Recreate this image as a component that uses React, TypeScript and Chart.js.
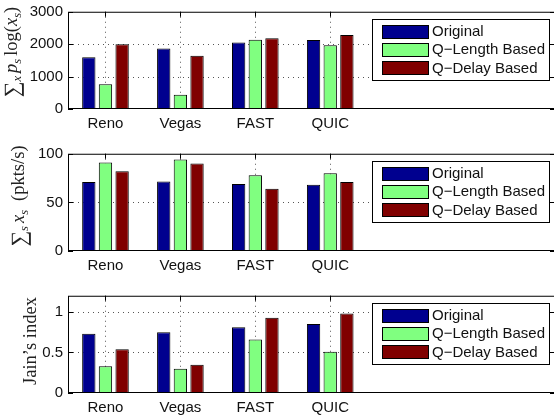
import React, { useEffect, useRef } from 'react';
import { Chart, registerables } from 'chart.js';

Chart.register(...registerables);

// ---- data ---------------------------------------------------------------
const categories = ['Reno', 'Vegas', 'FAST', 'QUIC'];
const seriesNames = ['Original', 'Q\u2212Length Based', 'Q\u2212Delay Based'];
const seriesColors = ['#00008f', '#80ff80', '#800000'];

// utility: sum over flows of p_s * log(x_s)
const utilityOriginal = [1600, 1870, 2050, 2130];
const utilityQLength = [760, 440, 2140, 1970];
const utilityQDelay = [2000, 1640, 2180, 2280];
const utilityTicks = [0, 1000, 2000, 3000];
const utilityMax = 3000;

// aggregate throughput (pkts/s)
const throughputOriginal = [71, 71.5, 69, 68];
const throughputQLength = [91, 94, 78, 80];
const throughputQDelay = [82, 90, 64, 71];
const throughputTicks = [0, 50, 100];
const throughputMax = 100;

// Jain's fairness index
const jainOriginal = [0.73, 0.75, 0.81, 0.85];
const jainQLength = [0.33, 0.3, 0.66, 0.51];
const jainQDelay = [0.54, 0.35, 0.93, 0.98];
const jainTicks = [0, 0.5, 1];
const jainMax = 1.2;

// ---- y-axis titles as rich-text runs -------------------------------------
type Run = { text?: string; kind?: 'rm' | 'it' | 'op'; sub?: boolean; gap?: number };

const utilityTitle: Run[] = [
  { text: '\u2211', kind: 'op' },
  { text: 'x', kind: 'it', sub: true },
  { gap: 3 },
  { text: 'p', kind: 'it' },
  { text: 's', kind: 'it', sub: true },
  { gap: 3 },
  { text: 'log', kind: 'rm' },
  { text: '(', kind: 'rm' },
  { text: 'x', kind: 'it' },
  { text: 's', kind: 'it', sub: true },
  { text: ')', kind: 'rm' },
];

const throughputTitle: Run[] = [
  { text: '\u2211', kind: 'op' },
  { text: 's', kind: 'it', sub: true },
  { gap: 3 },
  { text: 'x', kind: 'it' },
  { text: 's', kind: 'it', sub: true },
  { gap: 9 },
  { text: '(pkts/s)', kind: 'rm' },
];

const jainTitle: Run[] = [{ text: 'Jain\u2019s index', kind: 'rm' }];

const SANS = '"Liberation Sans", Arial, Helvetica, sans-serif';
const SERIF = '"Liberation Serif", "DejaVu Serif", "Times New Roman", serif';
const TITLE_SIZE = 18.5;
const LABEL_SIZE = 15;

type PanelSpec = {
  values: number[][];
  ticks: number[];
  max: number;
  title: Run[];
  titleX: number; // screen x of the rotated text baseline
  titleY: number; // screen y of the title centre, canvas coordinates
};

const panels: PanelSpec[] = [
  {
    values: [utilityOriginal, utilityQLength, utilityQDelay],
    ticks: utilityTicks,
    max: utilityMax,
    title: utilityTitle,
    titleX: 17,
    titleY: 52,
  },
  {
    values: [throughputOriginal, throughputQLength, throughputQDelay],
    ticks: throughputTicks,
    max: throughputMax,
    title: throughputTitle,
    titleX: 24,
    titleY: 54,
  },
  {
    values: [jainOriginal, jainQLength, jainQDelay],
    ticks: jainTicks,
    max: jainMax,
    title: jainTitle,
    titleX: 36,
    titleY: 57,
  },
];

const PANEL_H = 142;
const CANVAS_W = 560;

function runFont(r: Run): string {
  if (r.kind === 'op') return `22px ${SERIF}`;
  const size = r.sub ? 12.5 : TITLE_SIZE;
  return `${r.kind === 'it' ? 'italic ' : ''}${size}px ${SERIF}`;
}

function drawRotatedRuns(ctx: CanvasRenderingContext2D, runs: Run[], cx: number, cy: number) {
  ctx.save();
  ctx.translate(cx, cy);
  ctx.rotate(-Math.PI / 2);
  ctx.fillStyle = '#222';
  ctx.textBaseline = 'alphabetic';
  ctx.textAlign = 'left';
  const widths = runs.map((r) => {
    if (r.gap !== undefined) return r.gap;
    ctx.font = runFont(r);
    return ctx.measureText(r.text || '').width;
  });
  const total = widths.reduce((a, b) => a + b, 0);
  let x = -total / 2;
  runs.forEach((r, i) => {
    if (r.text) {
      ctx.font = runFont(r);
      const dy = r.sub ? 4 : r.kind === 'op' ? 2 : 0;
      ctx.fillText(r.text, x, dy);
    }
    x += widths[i];
  });
  ctx.restore();
}

function line(ctx: CanvasRenderingContext2D, x1: number, y1: number, x2: number, y2: number) {
  ctx.beginPath();
  ctx.moveTo(x1, y1);
  ctx.lineTo(x2, y2);
  ctx.stroke();
}

function framePlugin(p: PanelSpec) {
  return {
    id: 'matlabFrame',
    beforeDatasetsDraw(chart: any) {
      const { ctx, chartArea: a, scales } = chart;
      const xs = scales.x;
      const ys = scales.y;
      ctx.save();
      // dotted grid
      ctx.strokeStyle = '#555';
      ctx.lineWidth = 1;
      ctx.setLineDash([1, 4]);
      for (const v of p.ticks) {
        if (v <= ys.min || v >= ys.max) continue;
        const y = Math.round(ys.getPixelForValue(v)) + 0.5;
        line(ctx, a.left, y, a.right, y);
      }
      categories.forEach((_, i) => {
        const x = Math.round(xs.getPixelForValue(i + 1)) + 0.5;
        line(ctx, x, a.top, x, a.bottom);
      });
      // inward tick marks
      ctx.setLineDash([]);
      ctx.strokeStyle = '#000';
      for (const v of p.ticks) {
        const y = Math.round(ys.getPixelForValue(v)) + 0.5;
        line(ctx, a.left, y, a.left + 5, y);
        line(ctx, a.right - 5, y, a.right, y);
      }
      categories.forEach((_, i) => {
        const x = Math.round(xs.getPixelForValue(i + 1)) + 0.5;
        line(ctx, x, a.bottom, x, a.bottom - 5);
        line(ctx, x, a.top, x, a.top + 5);
      });
      ctx.restore();
    },
    afterDatasetsDraw(chart: any) {
      const { ctx, chartArea: a } = chart;
      ctx.save();
      // axes box
      ctx.strokeStyle = '#000';
      ctx.lineWidth = 1;
      ctx.strokeRect(a.left + 0.5, a.top + 0.5, a.right - a.left - 1, a.bottom - a.top - 1);

      // legend box inside the axes, upper right
      const bx = Math.round(a.right - 183);
      const by = Math.round(a.top + 7);
      const bw = 177;
      const bh = 61;
      ctx.fillStyle = '#fff';
      ctx.fillRect(bx, by, bw, bh);
      ctx.strokeRect(bx + 0.5, by + 0.5, bw, bh);
      ctx.font = `${LABEL_SIZE}px ${SANS}`;
      ctx.textBaseline = 'middle';
      ctx.textAlign = 'left';
      chart.data.datasets.forEach((ds: any, i: number) => {
        const cy = by + 12 + i * 18.2;
        const sy = Math.round(cy - 6.5);
        ctx.fillStyle = ds.backgroundColor;
        ctx.fillRect(bx + 10, sy, 46, 13);
        ctx.strokeStyle = '#000';
        ctx.strokeRect(bx + 10.5, sy + 0.5, 46, 13);
        ctx.fillStyle = '#111';
        ctx.fillText(ds.label, bx + 60, cy + 1);
      });

      // y-axis title
      drawRotatedRuns(ctx, p.title, p.titleX, p.titleY);
      ctx.restore();
    },
  };
}

function makeChart(canvas: HTMLCanvasElement, p: PanelSpec) {
  return new Chart(canvas, {
    type: 'bar',
    data: {
      datasets: seriesNames.map((name, s) => ({
        label: name,
        data: categories.map((_, i) => ({ x: i + 1, y: p.values[s][i] })),
        backgroundColor: seriesColors[s],
        borderColor: '#000',
        borderWidth: 1,
        borderSkipped: false,
        categoryPercentage: 2 / 3,
        barPercentage: 0.8,
      })),
    },
    options: {
      responsive: false,
      animation: false,
      devicePixelRatio: 1,
      layout: { padding: { top: 7, right: 5, left: 0, bottom: 0 } },
      plugins: {
        legend: { display: false },
        tooltip: { enabled: false },
        title: { display: false },
      },
      scales: {
        x: {
          type: 'linear',
          min: 0.5,
          max: 7,
          offset: false,
          grid: { display: false, drawTicks: false, offset: false },
          border: { display: false },
          afterBuildTicks: (s: any) => {
            s.ticks = categories.map((_, i) => ({ value: i + 1 }));
          },
          ticks: {
            autoSkip: false,
            maxRotation: 0,
            padding: 6,
            color: '#111',
            font: { family: SANS, size: LABEL_SIZE },
            callback: (v: any) => categories[Number(v) - 1] ?? '',
          },
          afterFit: (s: any) => {
            s.height = 33;
          },
        },
        y: {
          type: 'linear',
          min: 0,
          max: p.max,
          grid: { display: false, drawTicks: false },
          border: { display: false },
          afterBuildTicks: (s: any) => {
            s.ticks = p.ticks.map((v) => ({ value: v }));
          },
          ticks: {
            padding: 5,
            color: '#111',
            font: { family: SANS, size: LABEL_SIZE, lineHeight: 0.9 },
            callback: (v: any) => String(v),
          },
          afterFit: (s: any) => {
            s.width = 68;
          },
        },
      },
    } as any,
    plugins: [framePlugin(p)],
  });
}

export default function App() {
  const refs = useRef<(HTMLCanvasElement | null)[]>([]);

  useEffect(() => {
    const charts = panels.map((p, i) => makeChart(refs.current[i] as HTMLCanvasElement, p));
    return () => charts.forEach((c) => c.destroy());
  }, []);

  return (
    <div
      style={{
        position: 'fixed',
        left: 0,
        top: 0,
        width: 554,
        height: 420,
        overflow: 'hidden',
        background: '#fff',
      }}
    >
      {panels.map((_, i) => (
        <canvas
          key={i}
          ref={(el) => {
            refs.current[i] = el;
          }}
          width={CANVAS_W}
          height={PANEL_H}
          style={{ position: 'absolute', left: 0, top: i * PANEL_H, width: CANVAS_W, height: PANEL_H }}
        />
      ))}
    </div>
  );
}
